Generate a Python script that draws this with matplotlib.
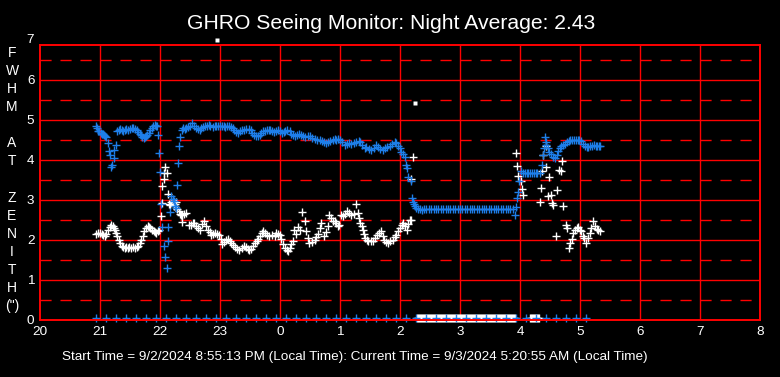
import numpy as np
import matplotlib
matplotlib.use("Agg")
import matplotlib.pyplot as plt
from matplotlib.transforms import offset_copy

plt.rcParams['font.family'] = ['Liberation Sans', 'DejaVu Sans']
plt.rcParams['lines.scale_dashes'] = False

BLUE = '#1e7ee8'
RED = '#ff0000'

# hours since midnight of start day (values past 24 are next morning)
blue_t = [20.93, 20.95, 20.97, 20.99, 21.01, 21.03, 21.05, 21.07, 21.09, 21.10,
          21.13, 21.15, 21.17, 21.19, 21.20, 21.23, 21.24, 21.27,
          21.29, 21.31, 21.34, 21.36, 21.38, 21.41, 21.44, 21.47, 21.50, 21.53,
          21.55, 21.58, 21.61, 21.64, 21.66, 21.68, 21.70, 21.73, 21.75, 21.77,
          21.79, 21.81, 21.84, 21.86, 21.89, 21.91, 21.93, 21.95,
          21.97, 21.99, 22.00, 22.01, 22.04, 22.06, 22.09, 22.11, 22.13, 22.14,
          22.17, 22.19, 22.21, 22.23, 22.25, 22.26, 22.29, 22.30, 22.32, 22.33,
          22.36, 22.38, 22.41, 22.44, 22.47, 22.50, 22.53, 22.56, 22.60, 22.63,
          22.66, 22.69, 22.72, 22.75, 22.78, 22.81, 22.84, 22.88, 22.91, 22.94,
          22.97, 23.00, 23.03, 23.06, 23.09, 23.12, 23.15, 23.18, 23.21, 23.24,
          23.27, 23.30, 23.33, 23.36, 23.40, 23.44, 23.48, 23.51, 23.54, 23.57,
          23.60, 23.63, 23.66, 23.69, 23.72, 23.75, 23.78, 23.81, 23.84, 23.87,
          23.90, 23.93, 23.96, 24.00, 24.03, 24.06, 24.09, 24.12, 24.16, 24.19,
          24.22, 24.25, 24.28, 24.31, 24.35, 24.38, 24.42, 24.46, 24.50, 24.54,
          24.58, 24.62, 24.66, 24.70, 24.74, 24.77, 24.80, 24.84, 24.88, 24.91,
          24.94, 24.97, 25.00, 25.04, 25.08, 25.11, 25.15, 25.19, 25.23, 25.27,
          25.31, 25.34, 25.37, 25.41, 25.44, 25.48, 25.52, 25.56, 25.60, 25.63,
          25.67, 25.71, 25.75, 25.79, 25.83, 25.87, 25.91, 25.94, 25.97, 26.00,
          26.02, 26.05, 26.08, 26.10, 26.12, 26.14, 26.18, 26.20, 26.22, 26.23,
          26.25, 26.27, 26.30, 26.33, 26.36,
          26.40, 26.44, 26.48, 26.52, 26.56, 26.60, 26.64, 26.68, 26.72, 26.76,
          26.80, 26.84, 26.88, 26.92, 26.96, 27.00, 27.04, 27.08, 27.12, 27.16,
          27.20, 27.24, 27.28, 27.32, 27.36, 27.40, 27.44, 27.48, 27.52, 27.56,
          27.60, 27.64, 27.68, 27.72, 27.76, 27.80, 27.84, 27.88,
          27.92, 27.93, 27.95, 27.96, 27.98, 28.02,
          28.05, 28.08, 28.11, 28.14, 28.17, 28.20, 28.23, 28.26, 28.29, 28.33,
          28.36, 28.38, 28.40, 28.42, 28.43, 28.44, 28.46, 28.49, 28.52, 28.55,
          28.58, 28.61, 28.63, 28.66, 28.69, 28.72, 28.75, 28.78, 28.81, 28.84,
          28.87, 28.90, 28.93, 28.96, 28.99, 29.02, 29.05, 29.08, 29.11, 29.14,
          29.17, 29.20, 29.23, 29.26, 29.29, 29.32, 29.34]
blue_v = [4.86, 4.80, 4.73, 4.72, 4.68, 4.66, 4.64, 4.63, 4.60, 4.57,
          4.43, 4.23, 4.13, 3.83, 3.88, 4.05, 4.26, 4.38,
          4.72, 4.76, 4.78, 4.74, 4.73, 4.75, 4.77, 4.76, 4.78, 4.80,
          4.80, 4.78, 4.76, 4.70, 4.66, 4.63, 4.58, 4.55, 4.58, 4.60,
          4.62, 4.68, 4.76, 4.80, 4.86, 4.87, 4.85, 4.84,
          4.62, 4.18, 3.70, 2.90, 2.33, 1.84, 1.57, 1.30, 1.98, 2.32,
          2.70, 3.09, 3.02, 2.97, 2.85, 2.80, 3.37, 3.93, 4.34, 4.57,
          4.74, 4.80, 4.78, 4.80, 4.82, 4.86, 4.93, 4.86, 4.80, 4.78,
          4.76, 4.79, 4.82, 4.84, 4.86, 4.88, 4.85, 4.82, 4.84, 4.86,
          4.85, 4.84, 4.86, 4.84, 4.83, 4.85, 4.84, 4.82, 4.81, 4.76,
          4.70, 4.68, 4.72, 4.74, 4.75, 4.77, 4.78, 4.75, 4.68, 4.62,
          4.60, 4.59, 4.63, 4.68, 4.72, 4.73, 4.75, 4.76, 4.76, 4.72,
          4.70, 4.72, 4.74, 4.72, 4.68, 4.70, 4.73, 4.74, 4.72, 4.66,
          4.62, 4.60, 4.62, 4.64, 4.63, 4.60, 4.58, 4.59, 4.59, 4.55,
          4.52, 4.50, 4.50, 4.47, 4.44, 4.43, 4.45, 4.48, 4.50, 4.52,
          4.51, 4.52, 4.50, 4.44, 4.38, 4.40, 4.42, 4.40, 4.42, 4.45,
          4.47, 4.46, 4.38, 4.30, 4.32, 4.28, 4.26, 4.30, 4.37, 4.33,
          4.28, 4.26, 4.30, 4.32, 4.35, 4.40, 4.45, 4.42, 4.36, 4.30,
          4.21, 4.15, 4.07, 3.88, 3.80, 3.57, 3.47, 3.05, 2.95, 2.90,
          2.84, 2.80, 2.78, 2.77, 2.76,
          2.78, 2.78, 2.78, 2.78, 2.78, 2.78, 2.78, 2.78, 2.78, 2.78,
          2.78, 2.78, 2.78, 2.78, 2.78, 2.78, 2.78, 2.78, 2.78, 2.78,
          2.78, 2.78, 2.78, 2.78, 2.78, 2.78, 2.78, 2.78, 2.78, 2.78,
          2.78, 2.78, 2.78, 2.78, 2.78, 2.78, 2.78, 2.78,
          2.63, 2.82, 3.05, 3.20, 3.47, 3.72,
          3.68, 3.68, 3.68, 3.68, 3.68, 3.68, 3.68, 3.68, 3.68, 3.68,
          3.88, 4.13, 4.30, 4.57, 4.45, 4.38, 4.30, 4.20, 4.15, 4.08,
          4.05, 4.12, 4.22, 4.30, 4.36, 4.38, 4.40, 4.44, 4.48, 4.50,
          4.51, 4.50, 4.51, 4.50, 4.50, 4.47, 4.40, 4.35, 4.32, 4.33,
          4.34, 4.36, 4.38, 4.36, 4.36, 4.34, 4.35]

white_t = [20.94, 20.97, 21.00, 21.03, 21.05, 21.08, 21.10, 21.13, 21.16, 21.19,
           21.21, 21.23, 21.25, 21.27, 21.29, 21.31, 21.33, 21.36, 21.38, 21.41,
           21.44, 21.47, 21.49, 21.52, 21.55, 21.58, 21.61, 21.63, 21.66, 21.69,
           21.71, 21.74, 21.77, 21.80, 21.82, 21.84, 21.87, 21.90, 21.92, 21.94,
           21.96, 21.98, 22.01, 22.03, 22.04, 22.06, 22.07, 22.09, 22.11, 22.13,
           22.15, 22.17, 22.19, 22.21, 22.23, 22.25, 22.27, 22.29, 22.31, 22.33,
           22.35, 22.37, 22.40, 22.44, 22.37, 22.49, 22.52, 22.55, 22.57, 22.60,
           22.63, 22.66, 22.70, 22.74, 22.77, 22.80, 22.83, 22.85, 22.88, 22.91,
           22.95, 22.99, 23.02, 23.04, 23.07, 23.10, 23.13, 23.16, 23.19, 23.21,
           23.25, 23.29, 23.32, 23.36, 23.40, 23.43, 23.46, 23.49, 23.52, 23.55,
           23.58, 23.61, 23.64, 23.67, 23.70, 23.72, 23.75, 23.78, 23.82, 23.86,
           23.91, 23.94, 23.97, 24.00, 24.02, 24.05, 24.08, 24.11, 24.13, 24.16,
           24.19, 24.21, 24.24, 24.27, 24.30, 24.33, 24.37, 24.41, 24.44, 24.47,
           24.49, 24.53, 24.58, 24.60, 24.63, 24.66, 24.69, 24.74, 24.77, 24.80,
           24.82, 24.85, 24.88, 24.91, 24.94, 24.97, 24.99, 25.02, 25.05, 25.08,
           25.11, 25.15, 25.19, 25.23, 25.27, 25.30, 25.32, 25.34, 25.36, 25.38,
           25.40, 25.42, 25.45, 25.47, 25.51, 25.55, 25.58, 25.61, 25.65, 25.68,
           25.71, 25.74, 25.77, 25.80, 25.84, 25.88, 25.91, 25.94, 25.97, 26.00,
           26.03, 26.05, 26.08, 26.11, 26.14, 26.16, 26.18, 26.19, 26.22,
           27.94, 27.95, 27.97, 28.01, 28.04, 28.05, 28.33, 28.35, 28.36, 28.39,
           28.43, 28.44, 28.46, 28.48, 28.52, 28.54, 28.55, 28.60, 28.62, 28.65,
           28.68, 28.70, 28.72, 28.76, 28.79, 28.82, 28.83, 28.86, 28.88, 28.92,
           28.95, 28.97, 29.00, 29.02, 29.05, 29.07, 29.10, 29.13, 29.16, 29.19,
           29.22, 29.25, 29.28, 29.30, 29.33]
white_v = [2.15, 2.17, 2.18, 2.15, 2.12, 2.09, 2.15, 2.26, 2.33, 2.38,
           2.35, 2.30, 2.24, 2.18, 2.10, 2.01, 1.93, 1.84, 1.82, 1.80,
           1.82, 1.81, 1.82, 1.80, 1.82, 1.80, 1.82, 1.84, 1.92, 2.01,
           2.10, 2.22, 2.30, 2.34, 2.32, 2.30, 2.25, 2.22, 2.19, 2.18,
           2.22, 2.26, 2.59, 2.93, 3.34, 3.53, 3.68, 3.83, 3.68, 3.16,
           2.90, 2.87, 2.95, 2.95, 2.85, 2.90, 2.95, 2.78, 2.72, 2.66,
           2.63, 2.63, 2.66, 2.68, 2.45, 2.38, 2.38, 2.43, 2.43, 2.35,
           2.30, 2.26, 2.40, 2.47, 2.35, 2.26, 2.20, 2.13, 2.16, 2.18,
           2.16, 2.13, 2.02, 1.91, 1.95, 2.00, 2.03, 1.97, 1.92, 1.88,
           1.83, 1.78, 1.76, 1.80, 1.84, 1.83, 1.78, 1.76, 1.77, 1.85,
           1.93, 1.98, 2.03, 2.10, 2.18, 2.22, 2.18, 2.13, 2.11, 2.13,
           2.09, 2.18, 2.15, 2.13, 2.03, 1.90, 1.80, 1.75, 1.72, 1.80,
           1.90, 1.97, 2.26, 2.15, 2.32, 2.25, 2.70, 2.48, 2.22, 2.05,
           1.93, 1.95, 2.01, 2.08, 2.15, 2.30, 2.43, 2.09, 2.20, 2.35,
           2.63, 2.55, 2.47, 2.48, 2.43, 2.34, 2.38, 2.63, 2.60, 2.65,
           2.72, 2.68, 2.63, 2.66, 2.90, 2.68, 2.55, 2.43, 2.35, 2.26,
           2.15, 2.05, 2.00, 1.97, 1.98, 1.98, 2.05, 2.13, 2.18, 2.22,
           2.10, 2.01, 1.96, 1.93, 1.97, 2.01, 2.08, 2.13, 2.22, 2.30,
           2.38, 2.43, 2.35, 2.26, 2.40, 2.51, 2.50, 3.53, 4.08,
           4.18, 3.84, 3.59, 3.48, 3.27, 3.13, 2.94, 3.30, 3.72, 4.13,
           4.34, 3.83, 3.11, 3.57, 3.12, 2.92, 2.88, 2.09, 3.26, 3.76,
           3.72, 3.98, 2.85, 2.38, 2.30, 1.80, 1.93, 2.03, 2.18, 2.26,
           2.30, 2.33, 2.25, 2.22, 2.10, 2.05, 1.93, 2.05, 2.18, 2.30,
           2.48, 2.35, 2.28, 2.26, 2.22]

# outliers drawn as small squares
outlier_t = [22.95, 26.25]
outlier_v = [7.0, 5.42]

# zero readings along the bottom
zero_blue_t = np.arange(20.93, 29.21, 1 / 6)
zero_white_t = np.concatenate([np.arange(26.28, 27.93, 1 / 60),
                               np.arange(28.17, 28.33, 1 / 60)])

hour_ticks = list(range(20, 33))
hour_labels = [str(h % 24) for h in hour_ticks]
fwhm_ticks = list(range(0, 7))

fig = plt.figure(figsize=(7.8, 3.77), dpi=100, facecolor='black')
ax = fig.add_axes([40 / 780, 1 - 320 / 377, 720 / 780, 275 / 377])
ax.set_facecolor('black')
ax.set_xlim(20, 32)
ax.set_ylim(0, 6.875)

for y in fwhm_ticks[1:]:
    ax.axhline(y, color=RED, lw=1.0, zorder=1)
for y in np.array(fwhm_ticks) + 0.5:
    ax.axhline(y, color=RED, lw=1.0, dashes=(8, 6.4), zorder=1)
for x in hour_ticks[1:-1]:
    ax.axvline(x, color=RED, lw=1.0, zorder=1)
for s in ax.spines.values():
    s.set_color(RED)
    s.set_linewidth(1.4)
    s.set_zorder(5)

ms, mew = 5.5, 1.0
# zero markers sit a couple of pixels above the baseline, like the original
zero_tr = offset_copy(ax.transData, fig=fig, x=0, y=2, units='dots')
ax.plot(white_t, white_v, '+', color='white', ms=ms, mew=mew, zorder=3)
ax.plot(zero_white_t, np.zeros(len(zero_white_t)), '+', color='white', ms=ms, mew=mew,
        zorder=3, transform=zero_tr, clip_on=False)
ax.plot(outlier_t, outlier_v, 's', color='white', ms=3, mec='none', zorder=3, clip_on=False)
ax.plot(blue_t, blue_v, '+', color=BLUE, ms=ms, mew=mew, zorder=4)
ax.plot(zero_blue_t, np.zeros(len(zero_blue_t)), '+', color=BLUE, ms=ms, mew=mew,
        zorder=4, transform=zero_tr, clip_on=False)

ax.set_xticks(hour_ticks)
ax.set_xticklabels(hour_labels)
ax.set_yticks(fwhm_ticks)
ax.tick_params(colors='white', labelsize=9.7, length=0, pad=4)
ax.text(-0.008, 7, "7", transform=ax.get_yaxis_transform(), color='white',
        fontsize=9.7, ha='right', va='center', clip_on=False)

letters = ["F", "W", "H", "M", "", "A", "T", "", "Z", "E", "N", "I", "T", "H", "(\")"]
for i, ch in enumerate(letters):
    fig.text(12 / 780, 1 - (53 + 18.07 * i) / 377, ch, color='white',
             fontsize=10, ha='center', va='center')

fig.text(391 / 780, 1 - 29 / 377, "GHRO Seeing Monitor: Night Average: 2.43",
         color='white', fontsize=15.2, ha='center', va='baseline')
fig.text(62 / 780, 1 - 360 / 377,
         "Start Time = 9/2/2024 8:55:13 PM (Local Time): Current Time = 9/3/2024 5:20:55 AM (Local Time)",
         color='white', fontsize=9.7, ha='left', va='baseline')

fig.savefig("out.png", dpi=100, facecolor='black')
